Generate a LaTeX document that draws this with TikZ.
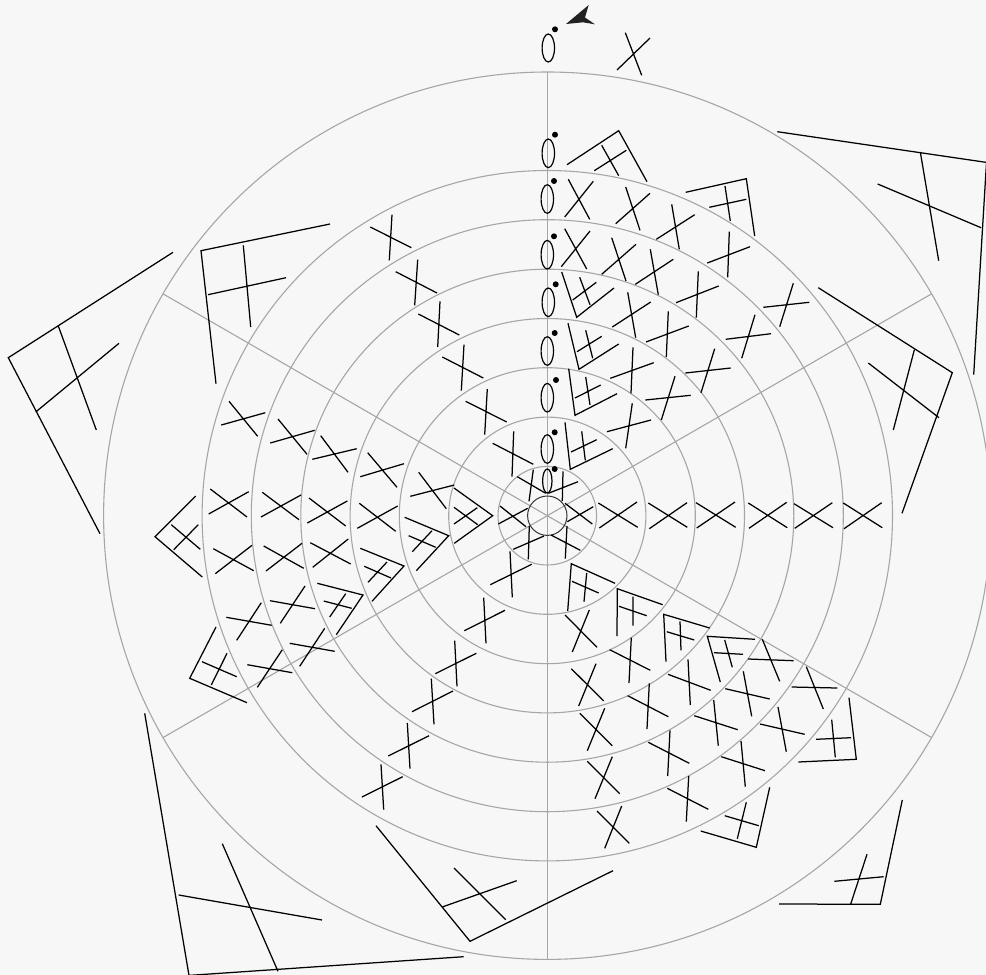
\documentclass[tikz,border=0pt]{standalone}
\usepackage{xcolor}
\definecolor{paper}{HTML}{F7F7F7}
\definecolor{guide}{HTML}{A6A6A6}
\definecolor{tip}{HTML}{222222}
\tikzset{
  ring/.style={guide, line width=1.1pt},
  stitch/.style={black, line width=1.25pt},
  loopst/.style={black, line width=1.2pt}
}

\begin{document}
\begin{tikzpicture}[x=1pt, y=-1pt]
\fill[paper] (0,0) rectangle (986,975);
\useasboundingbox (0,0) rectangle (986,975);
\coordinate (c) at (547.3,515.7);
% guide rings and spokes
\foreach \r in {49.3,98.6,148,197.2,246.5,296,345.2,443.7} \draw[ring] (c) circle [radius=\r];
\foreach \a in {30,90,150} \draw[ring] (c) ++(\a:443.7) -- ++(\a+180:887.4);
\draw[black!80, line width=1pt] (c) circle [radius=19.7];
% chain column with its dots
\foreach \ex/\ey/\rx/\ry/\dx/\dy in {548.3/48/6.2/14/555/29.3, 548.3/153.3/6.2/14.3/555/134.7, 547.3/199/6.2/14.3/554/181, 547.3/254.7/6.2/14.3/554/236.3, 548.3/302.3/6.2/14.3/555.7/284.3, 547.3/351/6.2/14.3/554.7/333, 547.3/397.7/6.2/14.3/556/380, 547.3/449/6.2/14.3/554.7/432.3, 547.3/481/4.7/12/554.7/469} {
  \draw[loopst] (\ex,\ey) ellipse [x radius=\rx, y radius=\ry];
  \fill (\dx,\dy) circle [radius=3];}
\fill[tip] (588.7,5) -- (566,24) -- (583,22.3) -- (595,24.3) -- (585,17.5) -- cycle;
% crossed stitches: two strokes each
\foreach \ax/\ay/\bx/\by/\cx/\cy/\dx/\dy in {
  625.3/32.7/641.7/75.3/617/70/650/38,
  568.3/179.3/589.7/219.3/564.7/217/593.3/181.3,
  625.7/187/640/230.3/615.7/223.7/650/193.3,
  671.7/204.3/679.3/249.3/656.3/239.3/694.7/214.7,
  564.7/228.7/586.7/269/561.3/266.7/590/231,
  611.7/237.7/626/281/601.7/274.3/636/244.3,
  650.3/249.3/658.3/294.7/635.3/284.3/673.3/259.3,
  729.3/231.7/727.7/277.3/707.3/263/750/246.7,
  627.7/292.3/635.7/337.7/612.3/327/650.7/302,
  668.3/311.3/666.3/357/646/342/688.7/326,
  698.3/271.3/696.3/317.7/676/302.7/718.7/286,
  755/314.7/741.7/358.3/725.7/339.3/771/333.7,
  793.3/283.3/779.7/326.7/763.3/307.3/809.3/302.3,
  633/347.3/631/393.3/610.3/378.3/653.7/362.7,
  714.7/348.7/701/392.7/685.3/373/730.7/368,
  675/376.3/661.3/420/645.3/400/690.7/395.3,
  632.3/403.3/625.7/448.3/607/431.7/651/420,
  513.7/431.3/512/476.7/492.7/443.3/533.3/464.3,
  533.3/469.7/529/501.3/517.3/476.7/545.7/493.3,
  563/471.3/562.3/501/548.3/493.3/578/481.7,
  565/503.3/592.3/524/567.3/521.7/593.3/506.7,
  567/526/565.3/558.7/551/535/580.3/550.3,
  529.3/526/528.3/559.3/513.3/549.3/544/536,
  500/506/526/526.7/498.3/524/527.7/508.3,
  598.3/503/637.7/527.3/599.3/528/637/502,
  648.3/503/687.3/527.3/649.3/528.7/687/502.7,
  696/502.7/735.7/527.3/696.7/528/735/502,
  748.3/503/787.3/527.7/749/528.3/786.7/502.3,
  794/503.7/833/527.7/794.7/528.3/832.3/502.7,
  843.3/503/882.3/527.7/844/528.7/881.7/502.7,
  229/401.3/257.7/436.3/221.3/425/265.3/412.7,
  278/419/307/454.3/270.3/443/314.7/430.3,
  320.7/435.7/348/472.3/312.3/459.3/356.7/448.7,
  367.7/452.7/397/487.3/360.3/476.7/404/463.7,
  418.7/472.3/446.3/508.7/410.3/496.3/454.3/485,
  210.3/489/247/517/208.7/514/248.7/491.7,
  262.3/492.3/299/519.7/261/517/301/495,
  309/498/345.7/526/307.3/523/347.3/501,
  359.3/503.3/395.7/531.3/357.3/528.3/397.7/506,
  213.3/548.7/253.7/570.7/215.3/573.7/252/545.3,
  263.7/546/303.7/568.3/266/571/302/543.3,
  310.3/542.7/350.7/564/312.7/567.3/348.3/539,
  305/586/280.3/623.3/270/600.7/315/608.7,
  261.3/602.7/236.7/640.3/226.3/617.3/271.7/625.3,
  324.7/628.3/299.7/666.3/289.7/643.3/334.7/651.3,
  282.3/649.7/257.3/687.3/247.3/664.7/292.3/672.7,
  392/214.7/389.3/260.3/370.3/227/411.3/247.7,
  417.7/259.7/414.7/305.3/395.7/271.7/437/293,
  440/301.3/437.7/347/418.3/314/459.3/335,
  464/344.7/461.3/390.7/442.3/357/483.3/378,
  487.3/389/484.7/434.7/465.7/401.3/506.7/422,
  510/551.3/512.3/597.3/490.3/584.7/531.7/564.3,
  483.7/597.7/486/643.3/464.3/630.7/505/610.3,
  454.7/640.7/457/686.3/435.3/673.7/476.3/653.3,
  431.3/678.7/434/724.3/412/711.7/453/691,
  407.3/723/410/768.7/388.3/756/429/735.7,
  381/764.3/383.7/809.7/362/797/402.7/776.7,
  565/615/597/647.3/572.3/652/589.3/610,
  571.3/668.7/603.7/701/578.7/706/596/663.7,
  579.7/713.3/612.3/745.7/587.3/750.7/604.7/708.3,
  587.3/761.3/619.7/793.7/595/798.7/612.3/756.7,
  597/811/629.3/843.3/604.7/848.3/621.7/806,
  762.3/639.3/779.7/681.3/748/659/793.7/660.7,
  806.3/666.7/823.3/709/791.7/687/837.3/688,
  631.3/637.7/629/683/609.7/649.7/650.3/670.3,
  649.3/683.3/647/729/627.7/695.7/668.3/716.7,
  670/730.3/667.7/776/648.3/742.3/689.3/763.3,
  688.7/776/686.3/821.7/667.3/788.3/708.3/809.3,
  688/659.3/690.3/705/668/674.3/710.7/690.3,
  713.7/700/718.3/745.7/694.3/715.7/737.7/729.7,
  741/741/745.3/786.7/721.3/756.7/765/770.7,
  743.3/671.3/751.7/716.3/725.3/688.7/769.7/699,
  778/707/786.3/751.7/760/724/804.7/734.3}
  \draw[stitch] (\ax,\ay) -- (\bx,\by) (\cx,\cy) -- (\dx,\dy);
% corner stitches: an open angle with a small cross inside
\foreach \ax/\ay/\bx/\by/\cx/\cy/\dx/\dy/\ex/\ey/\fx/\fy/\gx/\gy in {
  567/164.7/618.7/130.7/647/181.7/601.7/145.3/618.7/175.7/594.3/170.7/626.3/150.3,
  685.7/192.3/746.3/178.7/754.7/236/725/186/730.3/221/709.3/207.3/746.3/199.3,
  561.7/272/576.7/317.3/614/288/579.7/277.3/590/304.7/572.7/300/596.3/282.3,
  568/323.3/579/369.3/618.7/344/585.7/330.3/592.7/358.3/577/351.7/601.7/336.3,
  568.7/368.7/575/415.3/617/393.7/585.7/377/590/405/575/398/600.7/385,
  565/422.3/570.3/469.3/612.7/448.7/581.7/431.3/585.3/460.3/571/452/596.7/439.7,
  777.3/131.7/986.5/162.4/973.7/374.7/920.3/152/938.7/260.7/877.7/184/981/227.7,
  818.3/287.7/952.3/372.7/902/513.3/914.3/350/893.3/430/868.3/363/939/417.7,
  195.7/496/155/536.7/202.3/577/171.3/524.7/200.3/549.3/173.7/549.7/198.3/524.7,
  404.7/517.3/448.7/535.7/416.3/570.7/408.7/535.7/435.7/547.3/412.3/551.7/432/530.7,
  454/488/492.7/515.7/454.3/543.3/454/507.3/477.7/524.7/454/524/477.3/507.7,
  360.3/548.3/404/566/372/601.3/364.3/566.3/391/578/368/582.3/387/562,
  317.3/583.3/363/595/336.3/634.7/323.7/601/351.7/608.3/329.7/617/345.7/593.7,
  216/627/189.7/678.3/247/702.7/202/661.7/236.7/676.7/227/653.3/211.3/685,
  376/825.7/470/941.3/613/870.7/454/868/505.7/919.7/443/906.7/516.7/880.7,
  615/583.3/571.3/563.7/567.7/611/572/581.3/598.7/593/586.7/573/584/601.7,
  662.7/604.7/617.3/588.7/617/636/619/606.3/646.7/615.7/633/596.7/633/625.7,
  709.7/628/663.7/614.3/666/661.7/666.7/631.7/694.3/640/680/621.3/681/650.3,
  755/639.3/707.3/636.3/720.3/682/714/652.7/743/654.3/724.7/640/732.3/667.3,
  849/697.7/856.3/759.3/798.3/762/816/739.3/851/737.7/831.7/719.7/835.3/757.3,
  769.7/787.3/756.3/847.3/700.7/831/724.7/815.7/758.7/825.7/746.3/802.3/737.3/838.7,
  173/252.3/8.3/357.7/100/533.7/58.3/326/96.3/430/35.7/412/119/343.3,
  330/224/201/250.7/216/383.7/243.3/245.3/250.7/327/208/294.7/286/277.7,
  144.7/713.3/189/975.4/463.7/956.7/222.3/843.7/278/971.3/178.7/895/322/920,
  902.3/800/880.3/904.3/779/904/867/854.3/850.7/904/834.3/881.3/883.7/876.7}
  \draw[stitch] (\ax,\ay) -- (\bx,\by) -- (\cx,\cy) (\dx,\dy) -- (\ex,\ey) (\fx,\fy) -- (\gx,\gy);
\end{tikzpicture}
\end{document}
